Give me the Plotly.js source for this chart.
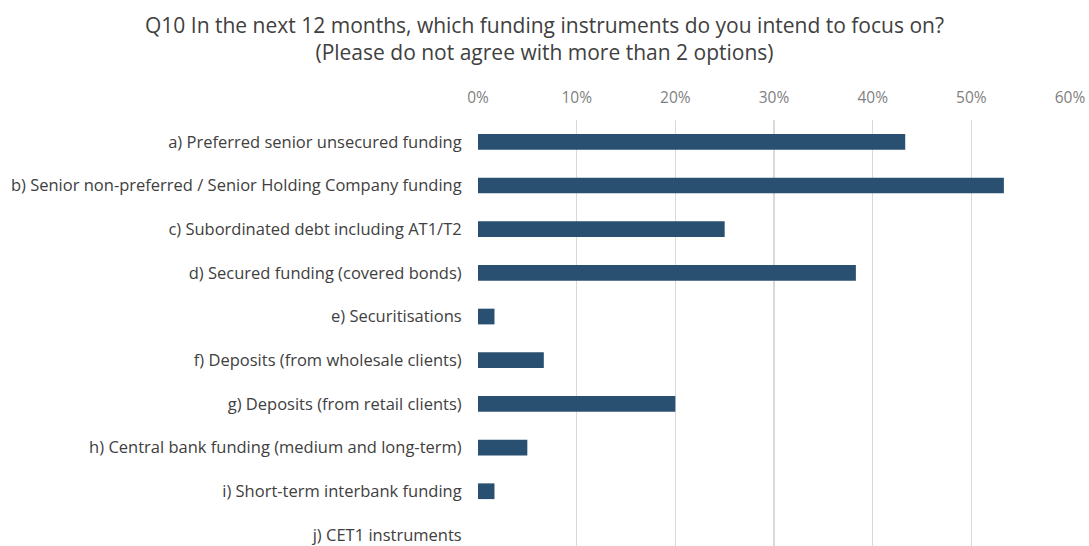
<!DOCTYPE html>
<html>
<head>
<meta charset="utf-8">
<script src="https://cdn.plot.ly/plotly-3.0.1.min.js"></script>
<style>html,body{margin:0;padding:0;background:#fff;}#chart{width:1089px;height:546px;}</style>
</head>
<body>
<div id="chart"></div>
<script>
const categories = [
  "a) Preferred senior unsecured funding",
  "b) Senior non-preferred / Senior Holding Company funding",
  "c) Subordinated debt including AT1/T2",
  "d) Secured funding (covered bonds)",
  "e) Securitisations",
  "f) Deposits (from wholesale clients)",
  "g) Deposits (from retail clients)",
  "h) Central bank funding (medium and long-term)",
  "i) Short-term interbank funding",
  "j) CET1 instruments"
];
const values = [0.433, 0.533, 0.25, 0.383, 0.0167, 0.0667, 0.20, 0.05, 0.0167, 0];
const tickVals = [0, 0.1, 0.2, 0.3, 0.4, 0.5, 0.6];
const tickText = ["0%", "10%", "20%", "30%", "40%", "50%", "60%"];
const titleText = "Q10 In the next 12 months, which funding instruments do you intend to focus on?<br>(Please do not agree with more than 2 options)";

const trace = {
  type: "bar",
  orientation: "h",
  y: categories,
  x: values,
  marker: {color: "#2a5071"},
  hoverinfo: "x+y"
};

const plotL = 478, plotR = 1070, plotT = 120, H = 546;
const plotW = plotR - plotL, plotH = H - plotT;

const layout = {
  width: 1089, height: 546,
  paper_bgcolor: "#fff", plot_bgcolor: "#fff",
  margin: {l: plotL, r: 1089 - plotR, t: plotT, b: 0, pad: 0},
  font: {family: "Open Sans, sans-serif", color: "#404040"},
  annotations: [{
    text: titleText,
    xref: "paper", yref: "paper",
    x: (544.5 - plotL) / plotW, xanchor: "center",
    y: 1 + (plotT - 38) / plotH, yanchor: "middle",
    showarrow: false, align: "center",
    font: {size: 21, color: "#404040", family: "Open Sans, sans-serif"}
  }],
  bargap: 0.64,
  showlegend: false,
  xaxis: {
    side: "top",
    range: [0, 0.6],
    tickvals: tickVals,
    ticktext: tickText,
    showgrid: true,
    gridcolor: "#d9d9d9",
    gridwidth: 1.5,
    zeroline: false,
    showline: false,
    ticks: "outside",
    ticklen: 10,
    tickcolor: "rgba(0,0,0,0)",
    tickfont: {size: 15.5, color: "#7f7f7f"}
  },
  yaxis: {
    type: "category",
    categoryorder: "array",
    categoryarray: categories,
    range: [9.254, -0.5],
    showgrid: false,
    zeroline: false,
    showline: false,
    ticks: "outside",
    ticklen: 12,
    tickcolor: "rgba(0,0,0,0)",
    tickfont: {size: 16.5, color: "#404040"}
  }
};

Plotly.newPlot("chart", [trace], layout, {displayModeBar: false, staticPlot: true});
</script>
</body>
</html>
